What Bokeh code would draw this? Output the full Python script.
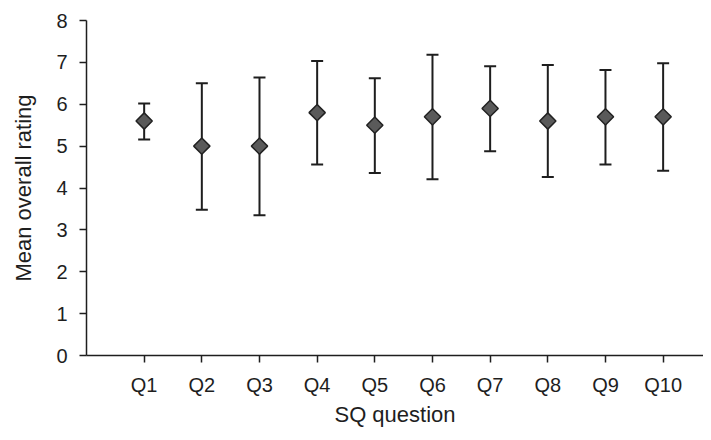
from bokeh.plotting import figure
from bokeh.models import Range1d, FixedTicker
from bokeh.embed import file_html
from bokeh.resources import INLINE
import math

questions = ["Q1", "Q2", "Q3", "Q4", "Q5", "Q6", "Q7", "Q8", "Q9", "Q10"]
means = [5.6, 5.0, 5.0, 5.8, 5.5, 5.7, 5.9, 5.6, 5.7, 5.7]
upper = [6.02, 6.5, 6.64, 7.03, 6.62, 7.18, 6.91, 6.94, 6.82, 6.98]
lower = [5.16, 3.48, 3.35, 4.56, 4.36, 4.21, 4.88, 4.26, 4.56, 4.41]
y_ticks = [0, 1, 2, 3, 4, 5, 6, 7, 8]

xs = list(range(1, len(questions) + 1))

p = figure(width=703, height=432, output_backend="svg", toolbar_location=None,
           x_range=Range1d(0, 10.70), y_range=Range1d(0, 8),
           min_border_left=86, min_border_top=20, min_border_bottom=77, min_border_right=0)
p.outline_line_color = None
p.xgrid.grid_line_color = None
p.ygrid.grid_line_color = None

font = "Liberation Sans"
txt = "#1e1e1e"
for ax in (p.xaxis[0], p.yaxis[0]):
    ax.axis_line_color = "#1e1e1e"
    ax.axis_line_width = 1.5
    ax.major_tick_line_color = "#1e1e1e"
    ax.major_tick_line_width = 1.5
    ax.major_tick_out = 7
    ax.major_tick_in = 0
    ax.minor_tick_line_color = None
    ax.major_label_text_font = font
    ax.major_label_text_font_size = "20px"
    ax.major_label_text_color = txt
    ax.axis_label_text_font = font
    ax.axis_label_text_font_size = "22px"
    ax.axis_label_text_font_style = "normal"
    ax.axis_label_text_color = txt

p.xaxis.ticker = FixedTicker(ticks=xs)
p.xaxis.major_label_overrides = {x: q for x, q in zip(xs, questions)}
p.xaxis.axis_label = "SQ question"
p.xaxis.major_label_standoff = 11
p.xaxis.axis_label_standoff = 3

p.yaxis.ticker = FixedTicker(ticks=y_ticks)
p.yaxis.axis_label = "Mean overall rating"
p.yaxis.major_label_standoff = 12
p.yaxis.axis_label_standoff = 17

p.segment(x0=xs, x1=xs, y0=lower, y1=upper, line_color="#1e1e1e", line_width=2)
p.scatter(x=xs, y=upper, marker="dash", size=12, line_color="#1e1e1e", line_width=2)
p.scatter(x=xs, y=lower, marker="dash", size=12, line_color="#1e1e1e", line_width=2)
p.scatter(x=xs, y=means, marker="square", angle=math.pi / 4, size=11.5,
          fill_color="#5a5a5a", line_color="#222222", line_width=1.5)

open("out.html", "w").write(file_html(p, INLINE))
